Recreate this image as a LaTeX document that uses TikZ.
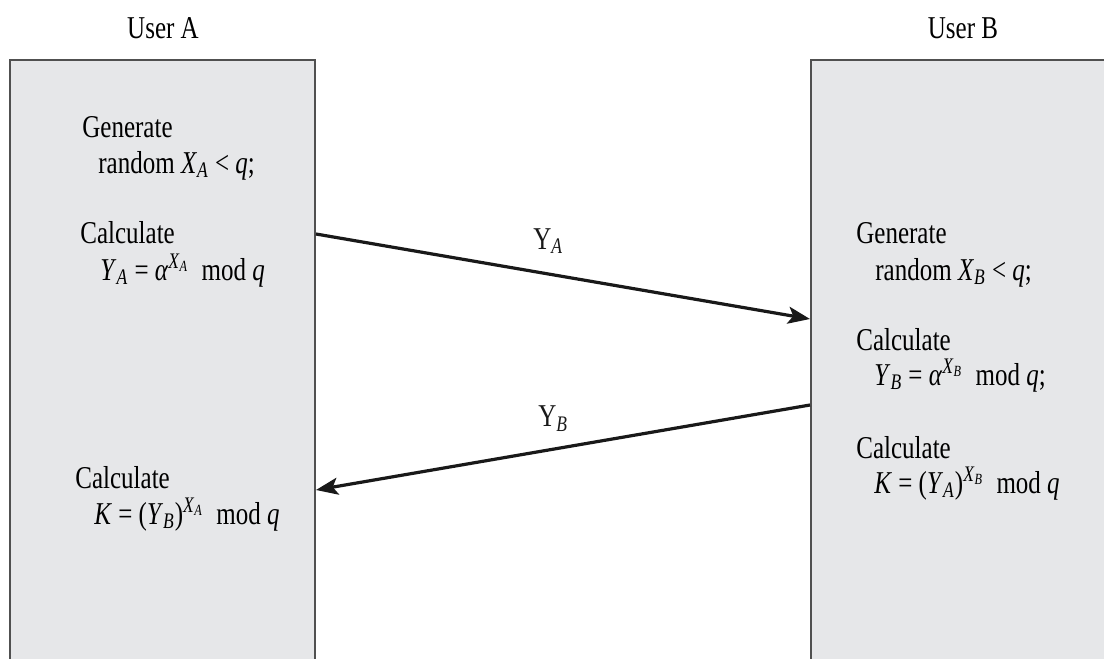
\documentclass[tikz,border=0pt]{standalone}
\usepackage{fontspec}
\setmainfont{Liberation Serif}
\usetikzlibrary{arrows.meta, positioning}
\definecolor{colBox}{RGB}{230,231,233}
\definecolor{colEdge}{RGB}{80,80,80}
\newcommand{\iv}[1]{\textit{#1}}
\newcommand{\lo}[1]{\textsubscript{\textit{#1}}}
\newcommand{\hi}[1]{\textsuperscript{#1}}

\begin{document}
\begin{tikzpicture}[
  x=0.5pt, y=-0.5pt,
  party/.style={rectangle, draw=colEdge, line width=1pt, fill=colBox,
                minimum height=310pt, inner sep=0pt},
  txt/.style={anchor=base west, inner sep=0pt, font=\fontsize{12.5}{15}\selectfont, yscale=1.27},
  who/.style={anchor=base, inner sep=0pt, font=\fontsize{12.5}{15}\selectfont, yscale=1.27},
  lbl/.style={inner sep=0pt, font=\fontsize{12.5}{15}\selectfont, yscale=1.27},
  msg/.style={-{Stealth[length=11pt, width=8.5pt, inset=2.5pt]}, line width=1.6pt, black!90},
]
\useasboundingbox (0,0) rectangle (1104,659);
\clip (0,0) rectangle (1104,659);

% the two parties
\node[party, minimum width=152.5pt] (boxA) at (162.5,370) {};
\node[party, minimum width=152pt] (boxB) at (963,370) {};
\node[who] (userA) at (163,38) {User A};
\node[who] (userB) at (963,38) {User B};

% user A
\node[txt] (genA) at (82,137) {Generate};
\node[txt] (rndA) at (98,173) {random \iv{X}\lo{A} < \iv{q};};
\node[txt] (calcA) at (80,243) {Calculate};
\node[txt] (pubA) at (100,280) {\iv{Y}\lo{A} = \iv{α}\hi{\iv{X}\lo{A}}\ \ mod \iv{q}};
\node[txt] (calcKA) at (75,488) {Calculate};
\node[txt] (keyA) at (94,524) {\iv{K} = (\iv{Y}\lo{B})\hi{\iv{X}\lo{A}}\ \ mod \iv{q}};

% user B
\node[txt] (genB) at (856,243) {Generate};
\node[txt] (rndB) at (875,280) {random \iv{X}\lo{B} < \iv{q};};
\node[txt] (calcB) at (856,350) {Calculate};
\node[txt] (pubB) at (874,385) {\iv{Y}\lo{B} = \iv{α}\hi{\iv{X}\lo{B}}\ \ mod \iv{q};};
\node[txt] (calcKB) at (856,458) {Calculate};
\node[txt] (keyB) at (874,493) {\iv{K} = (\iv{Y}\lo{A})\hi{\iv{X}\lo{B}}\ \ mod \iv{q}};

% exchange
\coordinate (aOut) at (boxA.east |- 0,234);
\coordinate (bIn) at (boxB.west |- 0,319);
\coordinate (bOut) at (boxB.west |- 0,405);
\coordinate (aIn) at (boxA.east |- 0,490);

\draw[msg] (aOut) -- node[lbl, pos=0.47, above=9pt] (ya) {Y\lo{A}} (bIn);
\draw[msg] (bOut) -- node[lbl, pos=0.52, above=8pt] (yb) {Y\lo{B}} (aIn);
\end{tikzpicture}
\end{document}
